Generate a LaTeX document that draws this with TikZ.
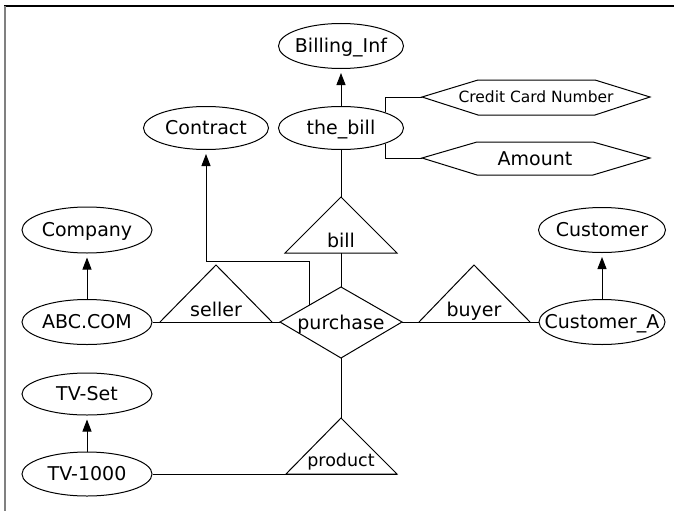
\documentclass[tikz,border=0pt]{standalone}
\usepackage{fontspec}
\setmainfont{DejaVu Sans}
\usetikzlibrary{shapes.geometric,arrows.meta,calc}

% centred text that does not widen its node
\newcommand{\ctrtext}[1]{\makebox[0pt][c]{#1}}

\begin{document}
\begin{tikzpicture}[x=1pt,y=-1pt,
  txt/.style={font=\fontsize{19}{21}\selectfont},
  ent/.style={txt,ellipse,draw,line width=1pt,inner sep=0pt,
    text height=16.4pt,text depth=2.5pt,minimum width=126pt,minimum height=44pt},
  lbl/.style={txt,inner sep=0pt,anchor=base},
  link/.style={line width=1pt},
  isa/.style={link,shorten >=4pt,-{Triangle[length=12pt,width=9pt]}},
  hexbox/.style={link,line join=miter},
]
\useasboundingbox (0,0) rectangle (674,511);

% frame
\draw[black,line width=1.6pt] (4,6) -- (674,6);
\draw[gray,line width=1.6pt] (5,6) -- (5,511);

% entities
\node[ent,minimum width=125pt,minimum height=45pt] (billing)  at (341,46)  {\ctrtext{Billing\_Inf}};
\node[ent,minimum width=125pt,minimum height=43pt] (thebill)  at (341,128) {\ctrtext{the\_bill}};
\node[ent,minimum width=125pt,minimum height=43pt] (contract) at (206,128) {\ctrtext{Contract}};
\node[ent,minimum width=130pt,minimum height=46pt] (company)  at (87,230)  {\ctrtext{Company}};
\node[ent,minimum width=130pt,minimum height=45pt] (abc)      at (87,322)  {\ctrtext{ABC.COM}};
\node[ent,minimum width=127pt,minimum height=45pt] (customer) at (602,230) {\ctrtext{Customer}};
\node[ent,minimum width=126pt,minimum height=45pt] (custA)    at (602,322) {\ctrtext{Customer\_A}};
\node[ent,minimum width=130pt,minimum height=42pt] (tvset)    at (87,394)  {\ctrtext{TV-Set}};
\node[ent,minimum width=130pt,minimum height=44pt] (tv)       at (87,474)  {\ctrtext{TV-1000}};

% attributes (hexagons)
\coordinate (ccnL) at (422,97);
\coordinate (amtL) at (422,158);
\draw[hexbox] (ccnL) -- ++(56,-17) -- ++(117,0) -- ++(55,17) -- ++(-55,18) -- ++(-117,0) -- cycle;
\draw[hexbox] (amtL) -- ++(55,-16) -- ++(116,0) -- ++(57,16) -- ++(-57,17) -- ++(-116,0) -- cycle;
\node[lbl,font=\fontsize{15.5}{17}\selectfont] (ccn) at (536,102.5) {Credit Card Number};
\node[lbl] (amt) at (535,165) {Amount};

% relationship diamond
\coordinate (pL) at (280,322);
\coordinate (pT) at (341,287);
\coordinate (pR) at (402,322);
\coordinate (pB) at (341,358);
\draw[link,line join=miter] (pL) -- (pT) -- (pR) -- (pB) -- cycle;
\node[lbl] (purchase) at (341,329) {purchase};

% role triangles
\coordinate (sellerL) at (160,322); \coordinate (sellerA) at (216,265); \coordinate (sellerR) at (272,322);
\coordinate (billL) at (285,253);   \coordinate (billA) at (341,197);   \coordinate (billR) at (397,253);
\coordinate (buyerL) at (419,322);  \coordinate (buyerA) at (474,265);  \coordinate (buyerR) at (530,322);
\coordinate (prodL) at (286,474);   \coordinate (prodA) at (341,418);   \coordinate (prodR) at (397,474);
\draw[link] (sellerL) -- (sellerA) -- (sellerR);
\draw[link] (billL) -- (billA) -- (billR) -- cycle;
\draw[link] (buyerL) -- (buyerA) -- (buyerR);
\draw[link] (prodL) -- (prodA) -- (prodR) -- cycle;
\node[lbl] (seller) at (216,316) {seller};
\node[lbl] (bill)   at (341,247) {bill};
\node[lbl] (buyer)  at (474,316) {buyer};
\node[lbl,font=\fontsize{17.5}{19}\selectfont] (product) at (341,466) {product};

% connectors
\draw[link] (abc.east) -- (pL);
\draw[link] (pR) -- (custA.west);
\draw[link] (tv.east) -- (prodR);
\draw[link] (thebill.south) -- (billA);
\draw[link] ($(billL)!0.5!(billR)$) -- (pT);
\draw[link] (pB) -- (prodA);
\draw[link] (thebill.north east) |- (ccnL);
\draw[link] (thebill.south east) |- (amtL);
\coordinate (pc) at ($(pL)!0.49!(pT)$);
\draw[isa] (pc) -- ++(0,-43) -| (contract.south);

% instance-of arrows
\draw[isa] (thebill.north) -- (billing.south);
\draw[isa] (abc.north) -- (company.south);
\draw[isa] (custA.north) -- (customer.south);
\draw[isa] (tv.north) -- (tvset.south);
\end{tikzpicture}
\end{document}
